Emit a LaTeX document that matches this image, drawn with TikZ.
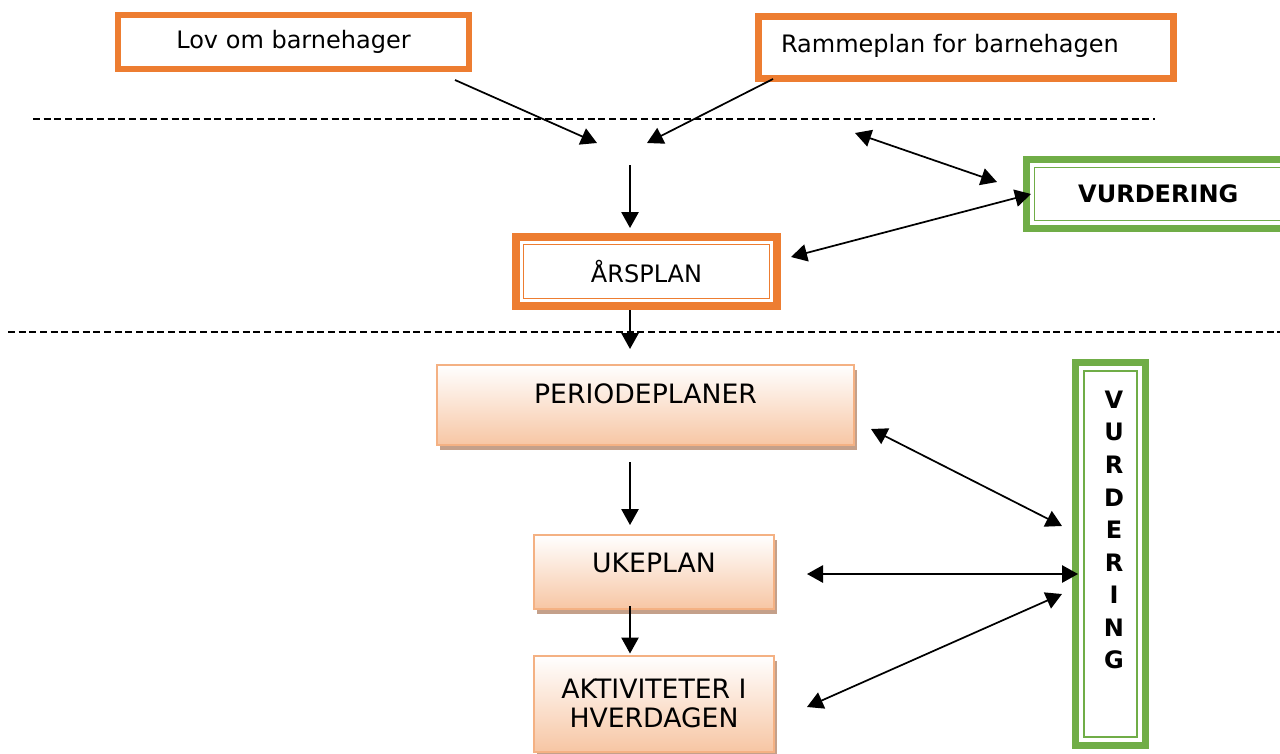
\documentclass[tikz,border=0pt]{standalone}
\usepackage{fontspec}
\setmainfont{DejaVu Sans}
\usetikzlibrary{arrows.meta,shadows}
\definecolor{orng}{HTML}{ED7D31}
\definecolor{grn}{HTML}{70AD47}
\definecolor{peachline}{HTML}{F4B183}
\definecolor{peach}{HTML}{F7C6A4}
\definecolor{shadowc}{HTML}{C4A08A}
\begin{document}
\begin{tikzpicture}[x=0.75pt,y=-0.75pt,
  every node/.style={outer sep=0pt, inner sep=0pt, font=\fontsize{18}{22}\selectfont},
  obox/.style={rectangle, draw=orng, fill=white},
  gbox/.style={rectangle, draw=grn, line width=5.25pt, fill=white},
  pbox/.style={rectangle, draw=peachline, line width=1.5pt, top color=white, bottom color=peach,
     font=\fontsize{20}{21.75}\selectfont,
     drop shadow={shadow xshift=2.25pt, shadow yshift=-3.75pt, fill=shadowc, opacity=1}},
  thinorange/.style={draw=orng, line width=1.1pt},
  thingreen/.style={draw=grn, line width=1.1pt},
  arr/.style={-{Triangle[length=12pt,width=13pt]}, line width=1.3pt},
  darr/.style={{Triangle[length=12pt,width=13pt]}-{Triangle[length=12pt,width=13pt]}, line width=1.3pt},
  dline/.style={dash pattern=on 5.25pt off 2.75pt, line width=1.8pt}
]
\useasboundingbox (0,0) rectangle (1280,753);

% top boxes
\node[obox, line width=4.5pt, minimum width=263.25pt, minimum height=40.5pt] (lov) at (293.5,42) {Lov om barnehager};
\node[obox, line width=5.25pt, text width=277.5pt, inner xsep=16.9pt, minimum height=46.5pt, align=left] (ramme) at (966,47.5) {\raisebox{1.2pt}[\height][\depth]{Rammeplan for barnehagen}};

% dashed separators
\coordinate (d1a) at (33,119);
\coordinate (d1b) at (1155,119);
\coordinate (d2a) at (8,332);
\coordinate (d2b) at (1280,332);
\draw[dline] (d1a) -- (d1b);
\draw[dline] (d2a) -- (d2b);

% AARSPLAN
\node[obox, line width=6pt, minimum width=195.75pt, minimum height=51.75pt] (ars) at (646.5,271.5) {ÅRSPLAN};
\draw[thinorange] ([shift={(7.5,7.5)}]ars.north west) rectangle ([shift={(-7.5,-7.5)}]ars.south east);

% VURDERING horizontal
\node[gbox, minimum width=197.6pt, minimum height=51.75pt] (vurdh) at (1158.25,194) {\bfseries VURDERING};
\draw[thingreen] ([shift={(8,8)}]vurdh.north west) rectangle ([shift={(-8,-8)}]vurdh.south east);

% lower boxes
\node[pbox, minimum width=312.75pt, minimum height=60pt] (periode) at (645.5,405) {\raisebox{8.25pt}[\height][\depth]{PERIODEPLANER}};
\node[pbox, minimum width=180pt, minimum height=55.5pt] (uke) at (654,572) {\raisebox{6.75pt}[\height][\depth]{UKEPLAN}};
\node[pbox, minimum width=180pt, minimum height=72pt, align=center] (aktiv) at (654,703.5) {AKTIVITETER I\\HVERDAGEN};

% VURDERING vertical
\node[gbox, minimum width=52.5pt, minimum height=287.25pt] (vurdv) at (1110.5,554) {};
\draw[thingreen] ([shift={(8.5,8.5)}]vurdv.north west) rectangle ([shift={(-8.5,-8.5)}]vurdv.south east);
\node[align=center, font=\bfseries\fontsize{18}{24.4}\selectfont] (vtext) at (1114,530) {V\\U\\R\\D\\E\\R\\I\\N\\G};

% arrow coordinates
\coordinate (ax) at (630,0);
\coordinate (lovout) at (455,80);
\coordinate (rammeout) at (773,79);
\coordinate (join1) at (597,143);
\coordinate (join2) at (647,143);
\coordinate (mid) at (630,165);
\coordinate (e1) at (855,133);
\coordinate (vh1) at (997,182);
\coordinate (arsE) at (791,257);
\coordinate (vh2) at (1031,194);
\coordinate (perE) at (871,429);
\coordinate (vv1) at (1062,526);
\coordinate (ukeE) at (807,574);
\coordinate (vv2) at (1078,574);
\coordinate (aktE) at (807,707);
\coordinate (vv3) at (1062,594);

\draw[arr] (lovout) -- (join1);
\draw[arr] (rammeout) -- (join2);
\draw[arr, shorten >=6.75pt] (mid) -- (ars.north -| ax);
\draw[darr] (e1) -- (vh1);
\draw[darr] (arsE) -- (vh2);
\draw[arr, shorten <=3pt, shorten >=12pt] (ars.south -| ax) -- (periode.north -| ax);
\draw[arr, shorten <=12.75pt, shorten >=7.5pt] (periode.south -| ax) -- (uke.north -| ax);
\draw[arr, shorten <=-2.25pt, shorten >=1.5pt] (uke.south -| ax) -- (aktiv.north -| ax);
\draw[darr] (perE) -- (vv1);
\draw[darr] (ukeE) -- (vv2);
\draw[darr] (aktE) -- (vv3);
\end{tikzpicture}
\end{document}
